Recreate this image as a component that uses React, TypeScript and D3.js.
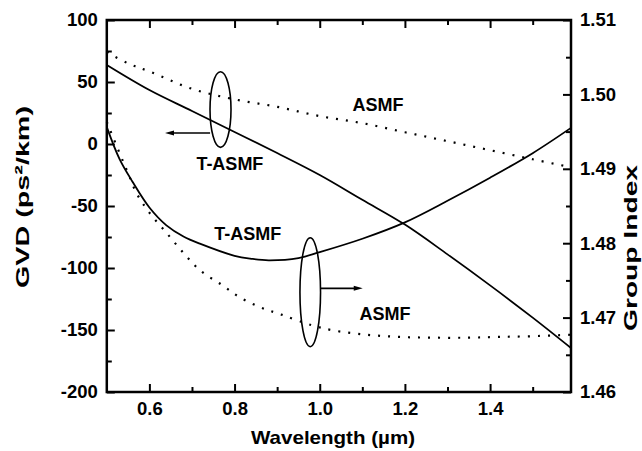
import React, { useEffect, useRef } from 'react';
import * as d3 from 'd3';

// GVD curves (left axis, ps^2/km)
const wlTasmfGvd = [0.5, 0.6, 0.7, 0.8, 0.9, 1.0, 1.1, 1.2, 1.3, 1.4, 1.5, 1.59];
const tasmfGvd = [63.7, 43.5, 26.6, 9.7, -7.3, -25, -45, -65, -89, -114, -140, -164.5];

const wlAsmfGvd = [0.5, 0.55, 0.6, 0.7, 0.8, 0.9, 1.0, 1.1, 1.2, 1.3, 1.4, 1.5, 1.59];
const asmfGvd = [74, 65, 58.5, 44.5, 36, 30, 22.5, 16.8, 9.5, 2.3, -5, -12.3, -18.8];

// group index curves (right axis)
const wlTasmfIndex = [0.5, 0.53, 0.56, 0.6, 0.64, 0.68, 0.72, 0.8, 0.84, 0.88, 0.95, 1.0, 1.1, 1.2, 1.3, 1.4, 1.5, 1.59];
const tasmfIndex = [1.4956, 1.4913, 1.4883, 1.4848, 1.4824, 1.4809, 1.4799, 1.4783, 1.4779, 1.4777, 1.4780, 1.4788, 1.4806, 1.4828, 1.4857, 1.4888, 1.4921, 1.4955];

const wlAsmfIndex = [0.5, 0.53, 0.55, 0.57, 0.6, 0.64, 0.68, 0.72, 0.77, 0.81, 0.86, 0.91, 0.98, 1.03, 1.11, 1.19, 1.27, 1.35, 1.42, 1.5, 1.59];
const asmfIndex = [1.4963, 1.4921, 1.4894, 1.4867, 1.4841, 1.4814, 1.4787, 1.4763, 1.4744, 1.4728, 1.4714, 1.4704, 1.469, 1.4683, 1.4677, 1.4674, 1.4673, 1.4673, 1.4674, 1.4675, 1.4677];

// ticks
const gvdTicks = [-200, -150, -100, -50, 0, 50, 100];
const gvdMinor = [-175, -125, -75, -25, 25, 75];
const indexTicks = [1.46, 1.47, 1.48, 1.49, 1.5, 1.51];
const indexMinor = [1.465, 1.475, 1.485, 1.495, 1.505];
const wlTicks = [0.6, 0.8, 1.0, 1.2, 1.4];
const wlMinor = [0.7, 0.9, 1.1, 1.3, 1.5];

const font = '"Liberation Sans", Arial, Helvetica, sans-serif';

const App = () => {
  const svgRef = useRef<SVGSVGElement>(null);

  useEffect(() => {
    const svg = d3.select(svgRef.current);
    svg.selectAll('*').remove();

    const left = 106.8, right = 571, top = 20, bottom = 392;

    const x = d3.scaleLinear().domain([0.5, 1.59]).range([left, right]);
    const yL = d3.scaleLinear().domain([-200, 100]).range([bottom, top]);
    const yR = d3.scaleLinear().domain([1.46, 1.51]).range([bottom, top]);

    const styleAxis = (g: any) => {
      g.select('.domain').remove();
      g.selectAll('line').attr('stroke', '#000').attr('stroke-width', 2);
      g.selectAll('text')
        .attr('font-size', 18.5)
        .attr('font-weight', 'bold')
        .attr('font-family', font)
        .attr('fill', '#000');
    };

    // left axis
    svg.append('g').attr('transform', `translate(${left},0)`)
      .call(d3.axisLeft(yL).tickValues(gvdMinor).tickSize(-5).tickFormat(() => ''))
      .call(styleAxis);
    svg.append('g').attr('transform', `translate(${left},0)`)
      .call(d3.axisLeft(yL).tickValues(gvdTicks).tickSize(-8).tickPadding(9).tickFormat((d: any) => String(d)))
      .call(styleAxis);

    // right axis
    svg.append('g').attr('transform', `translate(${right},0)`)
      .call(d3.axisRight(yR).tickValues(indexMinor).tickSize(-5).tickFormat(() => ''))
      .call(styleAxis);
    svg.append('g').attr('transform', `translate(${right},0)`)
      .call(d3.axisRight(yR).tickValues(indexTicks).tickSize(-8).tickPadding(9).tickFormat(d3.format('.2f')))
      .call(styleAxis);

    // bottom axis
    svg.append('g').attr('transform', `translate(0,${bottom})`)
      .call(d3.axisBottom(x).tickValues(wlMinor).tickSize(-5).tickFormat(() => ''))
      .call(styleAxis);
    svg.append('g').attr('transform', `translate(0,${bottom})`)
      .call(d3.axisBottom(x).tickValues(wlTicks).tickSize(-8).tickPadding(10).tickFormat(d3.format('.1f')))
      .call(styleAxis);

    // top axis
    svg.append('g').attr('transform', `translate(0,${top})`)
      .call(d3.axisTop(x).tickValues(wlMinor).tickSize(-5).tickFormat(() => ''))
      .call(styleAxis);
    svg.append('g').attr('transform', `translate(0,${top})`)
      .call(d3.axisTop(x).tickValues(wlTicks).tickSize(-8).tickFormat(() => ''))
      .call(styleAxis);

    svg.append('rect')
      .attr('x', left).attr('y', top)
      .attr('width', right - left).attr('height', bottom - top)
      .attr('fill', 'none').attr('stroke', '#000').attr('stroke-width', 2.5);

    // curves
    const drawCurve = (wl: number[], vals: number[], y: any, dotted: boolean) => {
      const line = d3.line<number>()
        .x((d, i) => x(wl[i]))
        .y(d => y(d))
        .curve(d3.curveCatmullRom.alpha(0.5));
      svg.append('path')
        .attr('d', line(vals))
        .attr('fill', 'none')
        .attr('stroke', '#000')
        .attr('stroke-width', dotted ? 2.2 : 1.8)
        .attr('stroke-dasharray', dotted ? '2,8' : null);
    };
    drawCurve(wlAsmfGvd, asmfGvd, yL, true);
    drawCurve(wlTasmfGvd, tasmfGvd, yL, false);
    drawCurve(wlAsmfIndex, asmfIndex, yR, true);
    drawCurve(wlTasmfIndex, tasmfIndex, yR, false);

    // annotations (positions in data units of the GVD axis)
    const ann = svg.append('g');
    const ellipse = (wl: number, v: number, rx: number, ry: number) =>
      ann.append('ellipse')
        .attr('cx', x(wl)).attr('cy', yL(v))
        .attr('rx', rx).attr('ry', ry)
        .attr('fill', 'none').attr('stroke', '#000').attr('stroke-width', 1.6);
    const arrow = (wl0: number, wl1: number, v: number) => {
      const x0 = x(wl0), x1 = x(wl1), yy = yL(v);
      const dir = x1 > x0 ? 1 : -1;
      ann.append('line')
        .attr('x1', x0).attr('x2', x1 - dir * 6)
        .attr('y1', yy).attr('y2', yy)
        .attr('stroke', '#000').attr('stroke-width', 1.6);
      ann.append('path')
        .attr('d', `M${x1},${yy}L${x1 - dir * 9},${yy - 2.5}L${x1 - dir * 9},${yy + 2.5}Z`)
        .attr('fill', '#000');
    };
    const label = (wl: number, v: number, txt: string) =>
      ann.append('text')
        .attr('x', x(wl)).attr('y', yL(v))
        .attr('text-anchor', 'middle')
        .attr('font-family', font).attr('font-weight', 'bold').attr('font-size', 18)
        .text(txt);

    ellipse(0.767, 27.8, 10.5, 37.8);
    arrow(0.7425, 0.6366, 8.9);
    label(0.789, -21, 'T-ASMF');
    label(1.137, 26.6, 'ASMF');

    ellipse(0.9777, -119.5, 10.3, 54.5);
    arrow(1.002, 1.101, -116.4);
    label(0.831, -77.4, 'T-ASMF');
    label(1.153, -141.9, 'ASMF');

    // axis titles
    const title = (tx: number, ty: number, rot: number, txt: string, fs: number, len: number) =>
      svg.append('text')
        .attr('transform', `translate(${tx},${ty}) rotate(${rot})`)
        .attr('text-anchor', 'middle')
        .attr('font-family', font).attr('font-weight', 'bold').attr('font-size', fs)
        .attr('textLength', len).attr('lengthAdjust', 'spacingAndGlyphs')
        .text(txt);

    title(333, 444, 0, 'Wavelength (\u00b5m)', 19, 164);
    title(29, 197, -90, 'GVD (ps\u00b2/km)', 19, 182);
    title(637, 248, -90, 'Group Index', 18, 166);
  }, []);

  return (
    <svg
      ref={svgRef}
      width={642}
      height={451}
      style={{ position: 'absolute', left: 0, top: 0, background: '#fff' }}
    />
  );
};

export default App;
